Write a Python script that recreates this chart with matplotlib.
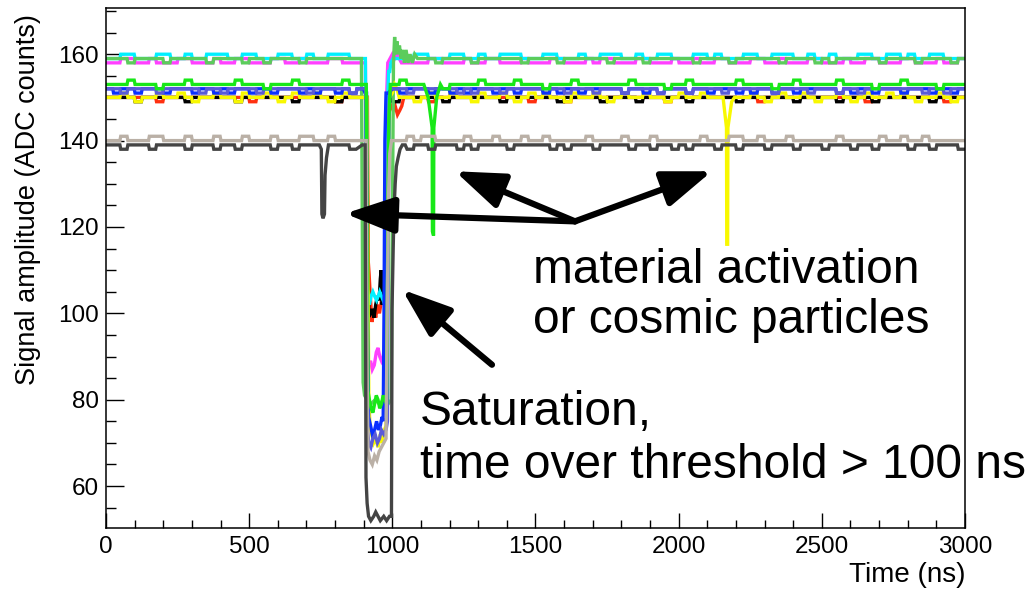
import numpy as np
import matplotlib
matplotlib.use("Agg")
import matplotlib.pyplot as plt
from matplotlib.ticker import MultipleLocator

plt.rcParams["font.family"] = ["Liberation Sans", "DejaVu Sans"]

# baseline read every 25 ns; each digit = ADC counts above the channel's base level
grid_step = 25

red_base = 149
red_noise = "1111111011 1111111111 0111111111 1101111111 1111101111 1111111110 1111011111 1111111101 1111111111 1011111111 1111110111 1111111011"
red_events = [
    [(905, 150), (913, 150), (916, 112), (919, 109), (923, 104), (929, 98), (935, 101), (942, 99), (948, 102),
     (955, 100), (962, 103), (968, 104), (973, 102), (977, 130), (981, 148), (988, 149), (996, 148), (1003, 147),
     (1010, 148), (1018, 146), (1026, 147), (1033, 148), (1040, 150)],
]

black_base = 149
black_noise = "1111011111 1011111101 1111110111 1101111111 0111111011 1111101111 1110111110 1111011111 1011111101 1111110111 1101111011 1111101111"
black_events = [
    [(905, 150), (911, 150), (914, 115), (918, 101), (924, 100), (930, 101), (936, 99), (942, 102), (948, 104),
     (954, 103), (958, 108), (961, 110), (964, 102), (970, 104), (975, 103), (978, 130), (982, 150), (990, 150)],
]

magenta_base = 158
magenta_noise = "0011001000 1100010011 0001100100 0110000110 0100011000 1001100010 0011000101 1000110001 0010011000 1100100011 0001001100 0110001001"
magenta_events = [
    [(900, 158), (906, 158), (909, 120), (912, 92), (918, 88), (924, 89), (930, 87), (937, 88), (944, 91),
     (950, 92), (956, 90), (962, 89), (968, 90), (972, 92), (976, 120), (980, 150), (984, 158), (992, 159),
     (1000, 160), (1008, 159), (1016, 160), (1024, 159), (1032, 158)],
]

cyan_base = 159
cyan_noise = "0011000110 0100111001 1000110010 0111001100 1001100011 0010011100 0110001001 1100100110 0011010001 1001110010 0100011001 1010011000"
cyan_events = [
    [(900, 159), (906, 159), (909, 120), (912, 106), (920, 102), (926, 104), (932, 105), (938, 104), (945, 103),
     (951, 104), (956, 105), (962, 104), (968, 103), (974, 104), (980, 130), (984, 150), (987, 156), (991, 156),
     (995, 158), (1002, 159)],
]

lgreen_base = 158
lgreen_noise = "1110111101 1111011110 1101111011 1111101111 0111110111 1011111101 1110111111 0111101111 1101111011 1111011110 1011111101 1110111101"
lgreen_events = [
    [(880, 159), (892, 159), (895, 120), (898, 84), (903, 81), (912, 80), (925, 79), (940, 80), (955, 79),
     (970, 80), (985, 79), (996, 80), (1000, 120), (1004, 158), (1008, 164), (1012, 160), (1016, 163),
     (1020, 160), (1025, 162), (1030, 159), (1036, 161), (1042, 158), (1048, 161), (1055, 158), (1062, 160),
     (1070, 158), (1078, 160), (1088, 159), (1100, 159)],
]

yellow_base = 149
yellow_noise = "1121011211 2101121102 1121012112 1012112101 2110121121 1021121012 1211021121 0121121101 2112101211 2101211210 1121012112 1210112101"
yellow_events = [
    [(905, 150), (912, 150), (915, 110), (918, 80), (922, 74), (928, 72), (935, 70), (942, 71), (950, 69),
     (958, 72), (965, 70), (972, 73), (978, 74), (982, 105), (986, 140), (990, 150), (1000, 151), (1008, 153),
     (1016, 152), (1024, 150)],
    [(2145, 150), (2155, 150), (2167, 143), (2168, 116), (2171, 116), (2172, 143), (2185, 149), (2195, 150)],
]

blue_base = 151
blue_noise = "1011011101 1101101011 0110111010 1101011101 1011101101 0111011011 1010110111 1101101011 1011011101 0110110111 1101011011 1011101101"
blue_events = [
    [(905, 151), (910, 151), (913, 100), (917, 76), (924, 74), (930, 72), (938, 73), (945, 75), (952, 73),
     (958, 74), (964, 76), (968, 75), (971, 100), (974, 140), (978, 151), (985, 151)],
]

purple_base = 151
purple_noise = "1101111011 1110110111 1011111101 1111011011 1101111110 1011101111 1111011101 1101111011 1011110111 1110111101 1101101111 1111011011"
purple_events = [
    [(900, 152), (907, 152), (910, 110), (913, 73), (918, 70), (925, 69), (932, 71), (940, 72), (948, 70),
     (955, 71), (962, 73), (970, 72), (978, 73), (983, 75), (986, 120), (989, 148), (994, 152), (1000, 152)],
]

bgreen_base = 152
bgreen_noise = "1112111011 1211111121 1101112111 1112110111 1211111011 1121111211 1011121111 1112111101 1211111121 1110112111 1121111011 1211110111"
bgreen_events = [
    [(900, 153), (909, 153), (912, 118), (915, 82), (920, 80), (926, 78), (932, 77), (938, 79), (944, 81),
     (950, 80), (956, 78), (962, 79), (968, 81), (974, 80), (980, 79), (984, 115), (988, 145), (993, 153),
     (1000, 153)],
    [(1110, 153), (1125, 150), (1139, 143), (1140, 119), (1144, 118), (1145, 143), (1155, 150), (1168, 153)],
]

tan_base = 140
tan_noise = "0010001100 0100010001 0001000110 0100001000 0010110000 1000100010 0100000100 0010001000 0001000110 0100010000 0010000010 0100100000"
tan_events = [
    [(900, 140), (909, 140), (912, 88), (915, 68), (922, 66), (930, 65), (938, 67), (946, 66), (954, 68),
     (962, 69), (970, 70), (978, 71), (983, 105), (987, 128), (991, 137), (997, 140), (1005, 140)],
]

grey_base = 138
grey_noise = "1101110111 1011101101 1110110111 0111011101 1101101110 1011110111 1101011101 1110110110 1011101101 1101110111 0111011011 1101101110"
grey_events = [
    [(745, 139), (752, 138), (754, 123), (758, 122), (763, 123), (765, 132), (770, 136), (777, 139)],
    [(895, 139), (905, 139), (908, 62), (912, 56), (917, 53), (925, 52), (935, 53), (942, 54), (950, 53),
     (958, 52), (970, 53), (980, 52), (990, 53), (997, 53), (999, 101), (1003, 115), (1006, 124), (1010, 130),
     (1014, 134), (1020, 136), (1027, 138), (1035, 139), (1045, 139)],
]

# drawing order (last on top)
channels = [
    (red_base, red_noise, red_events, "#ff3010"),
    (black_base, black_noise, black_events, "#000000"),
    (magenta_base, magenta_noise, magenta_events, "#ff40ff"),
    (cyan_base, cyan_noise, cyan_events, "#00f0ff"),
    (lgreen_base, lgreen_noise, lgreen_events, "#5ccc5c"),
    (yellow_base, yellow_noise, yellow_events, "#f8f800"),
    (blue_base, blue_noise, blue_events, "#0a30ff"),
    (purple_base, purple_noise, purple_events, "#5a5ad8"),
    (bgreen_base, bgreen_noise, bgreen_events, "#18e818"),
    (tan_base, tan_noise, tan_events, "#bab0a6"),
    (grey_base, grey_noise, grey_events, "#444444"),
]


def waveform(base, noise, events):
    levels = base + np.array([int(c) for c in noise.replace(" ", "")])
    windows = [(w[0][0], w[-1][0]) for w in events]
    ts, vs = [], []
    for i, lv in enumerate(levels):
        a, b = i * grid_step, (i + 1) * grid_step
        if any(a < w1 and b > w0 for w0, w1 in windows):
            continue
        ts += [a + 1.5, b - 1.5]
        vs += [lv, lv]
    for w in events:
        ts += [p[0] for p in w]
        vs += [p[1] for p in w]
    order = np.argsort(ts, kind="stable")
    return np.array(ts)[order], np.array(vs)[order]


fig = plt.figure(figsize=(10.3, 5.89), dpi=100)
ax = fig.add_axes([0.1029, 0.1036, 0.8340, 0.8828])

for base, noise, events, color in channels:
    t, v = waveform(base, noise, events)
    ax.plot(t, v, color=color, lw=2.4, solid_joinstyle="miter")

ax.set_xlim(0, 3000)
ax.set_ylim(50.3, 170.7)
ax.xaxis.set_major_locator(MultipleLocator(500))
ax.xaxis.set_minor_locator(MultipleLocator(100))
ax.yaxis.set_major_locator(MultipleLocator(20))
ax.yaxis.set_minor_locator(MultipleLocator(5))
ax.tick_params(which="both", direction="in", top=False, right=False, width=1.0, labelsize=17.5)
ax.tick_params(axis="x", which="major", length=11, pad=5.5)
ax.tick_params(axis="x", which="minor", length=6)
ax.tick_params(axis="y", which="major", length=13, pad=5)
ax.tick_params(axis="y", which="minor", length=7)
for s in ax.spines.values():
    s.set_linewidth(1.1)

ax.set_ylabel("Signal amplitude (ADC counts)", fontsize=19.5, loc="top")
ax.yaxis.set_label_coords(-0.076, 0.988)
ax.set_xlabel("Time (ns)", fontsize=20, loc="right")
ax.xaxis.set_label_coords(1.0, -0.066)

# arrows pointing at the features
arrow = dict(arrowstyle="-|>,head_length=1.5,head_width=0.55", lw=4.5, color="black",
             shrinkA=0, shrinkB=0, mutation_scale=20)
tail = (1638, 121.3)
for tip in [(835, 123.1), (1219, 132.9), (2116, 132.9)]:
    ax.annotate("", xy=tip, xytext=tail, arrowprops=arrow)
ax.annotate("", xy=(1034, 105.5), xytext=(1348, 88.1), arrowprops=arrow)

fig.text(0.5175, 0.5195, "material activation", fontsize=34.5, va="baseline")
fig.text(0.5175, 0.4346, "or cosmic particles", fontsize=34.5, va="baseline")
fig.text(0.4078, 0.2784, "Saturation,", fontsize=34.5, va="baseline")
fig.text(0.4078, 0.1885, "time over threshold > 100 ns", fontsize=34.5, va="baseline")

fig.savefig("out.png", dpi=100)
